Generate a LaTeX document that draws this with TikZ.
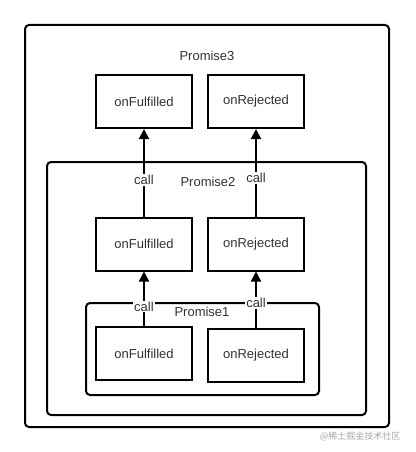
\documentclass[tikz,border=0pt]{standalone}
\usepackage{fontspec}
\setmainfont{Liberation Sans}
\newfontfamily\cjkfont{Noto Sans CJK SC}
\usetikzlibrary{arrows.meta}
\tikzset{
  fnbox/.style={draw, line width=2pt, fill=white, minimum width=96pt, minimum height=53pt, inner sep=0pt},
  promisebox/.style={draw, line width=2pt, rounded corners=4pt},
  calllink/.style={line width=2pt, -{Triangle[width=10pt,length=10pt]}},
  calltag/.style={fill=white, inner sep=1pt},
}

\begin{document}
\begin{tikzpicture}[x=1pt, y=-1pt, every node/.style={font=\fontsize{13}{15}\selectfont, text=black!80}]
		\useasboundingbox (0,0) rectangle (415,452);

		% Promise3
		\draw[promisebox] (25,25) rectangle (389,427);
		\node (p3) at (207,56) {Promise3};
		\node[fnbox] (p3ful) at (144,101.5) {onFulfilled};
		\node[fnbox] (p3rej) at (256,101.5) {onRejected};

		% Promise2
		\draw[promisebox] (47,162) rectangle (366,415);
		\node (p2) at (208,182) {Promise2};
		\node[fnbox] (p2ful) at (144,244) {onFulfilled};
		\node[fnbox] (p2rej) at (256,244) {onRejected};

		% Promise1
		\draw[promisebox] (86,303) rectangle (319,395);
		\node (p1) at (202,312) {Promise1};
		\node[fnbox] (p1ful) at (144,353.5) {onFulfilled};
		\node[fnbox] (p1rej) at (256,355) {onRejected};

		% calls
		\draw[calllink] (p2ful) -- node[calltag, pos=0.42] (c2ful) {call} (p3ful);
		\draw[calllink] (p2rej) -- node[calltag, pos=0.44] (c2rej) {call} (p3rej);
		\draw[calllink] (p1ful) -- node[calltag, pos=0.36] (c1ful) {call} (p2ful);
		\draw[calllink] (p1rej) -- node[calltag, pos=0.44] (c1rej) {call} (p2rej);

		\node[font=\cjkfont\fontsize{9}{10}\selectfont, text=black!35, anchor=east] (mark) at (404,436) {@稀土掘金技术社区};
	\end{tikzpicture}
\end{document}
